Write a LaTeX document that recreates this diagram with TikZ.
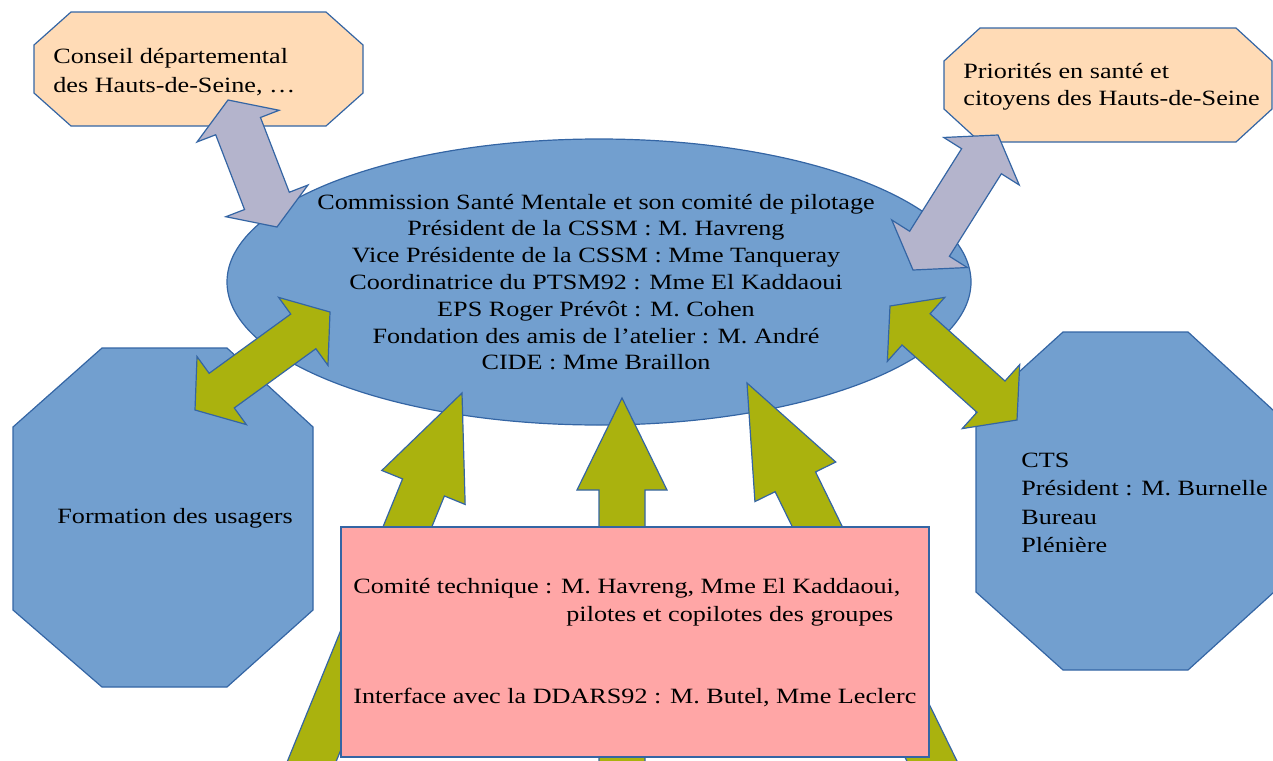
\documentclass[tikz,border=0pt]{standalone}
\usepackage{fontspec}
\setmainfont{Liberation Serif}[FakeStretch=1.2]
\usetikzlibrary{calc}
\definecolor{cblue}{HTML}{729FCF}
\definecolor{cline}{HTML}{3465A4}
\definecolor{cpeach}{HTML}{FFDBB6}
\definecolor{cpink}{HTML}{FFA6A6}
\definecolor{cpurple}{HTML}{B4B4CC}
\definecolor{colive}{HTML}{AAB20E}
% double block arrow: #1 end A, #2 end B, #3 half shaft, #4 head length, #5 half head, #6 style
\newcommand{\dblblockarrow}[6]{%
  \coordinate (da1) at ($(#1)!#4!(#2)$);
  \coordinate (db1) at ($(#2)!#4!(#1)$);
  \path[#6] (#1) -- ($(da1)!#5!90:(#2)$) -- ($(da1)!#3!90:(#2)$)
    -- ($(db1)!#3!-90:(#1)$) -- ($(db1)!#5!-90:(#1)$) -- (#2)
    -- ($(db1)!#5!90:(#1)$) -- ($(db1)!#3!90:(#1)$)
    -- ($(da1)!#3!-90:(#2)$) -- ($(da1)!#5!-90:(#2)$) -- cycle;
}
% single block arrow: #1 tip, #2 tail, #3 half shaft, #4 head length, #5 half head, #6 style
\newcommand{\oneblockarrow}[6]{%
  \coordinate (sa1) at ($(#1)!#4!(#2)$);
  \path[#6] (#1) -- ($(sa1)!#5!90:(#2)$) -- ($(sa1)!#3!90:(#2)$)
    -- ($(#2)!#3!-90:(#1)$) -- ($(#2)!#3!90:(#1)$)
    -- ($(sa1)!#3!-90:(#2)$) -- ($(sa1)!#5!-90:(#2)$) -- cycle;
}
\begin{document}
\begin{tikzpicture}[x=0.5pt,y=-0.5pt,
  shapeline/.style={draw=cline,line width=0.6pt,line join=miter},
  bluefill/.style={shapeline,fill=cblue},
  peachfill/.style={shapeline,fill=cpeach},
  purplearrow/.style={shapeline,fill=cpurple},
  olivearrow/.style={shapeline,fill=colive},
  txt/.style={inner sep=0pt,text=black,font=\fontsize{10.9}{13.4}\selectfont},
  txtl/.style={txt,align=left,anchor=west}]
\useasboundingbox (0,0) rectangle (1273,760);
\clip (0,0) rectangle (1273,760);

% central ellipse
\coordinate (cssmc) at (599,282);
\path[bluefill] (cssmc) ellipse [x radius=186pt, y radius=71.5pt];

% top octagons
\path[peachfill] (71,12) -- (326,12) -- (363,45) -- (363,93) -- (326,126) -- (71,126) -- (34,93) -- (34,45) -- cycle;
\path[peachfill] (980,28) -- (1236,28) -- (1272,61) -- (1272,109) -- (1236,142) -- (980,142) -- (944,109) -- (944,61) -- cycle;

% side octagons
\path[bluefill] (102,348) -- (227,348) -- (313,427) -- (313,610) -- (227,687) -- (102,687) -- (13,610) -- (13,427) -- cycle;
\path[bluefill] (1063,332) -- (1188,332) -- (1274,411) -- (1274,592) -- (1188,670) -- (1063,670) -- (976,592) -- (976,411) -- cycle;

% purple double arrows
\coordinate (ptlA) at (228,100);
\coordinate (ptlB) at (277,227);
\dblblockarrow{ptlA}{ptlB}{12pt}{14pt}{22pt}{purplearrow}
\coordinate (ptrA) at (998,135);
\coordinate (ptrB) at (913,270);
\dblblockarrow{ptrA}{ptrB}{11.75pt}{15.5pt}{22.3pt}{purplearrow}

% olive double arrows
\coordinate (olA) at (330,312);
\coordinate (olB) at (195,410);
\dblblockarrow{olA}{olB}{10.7pt}{16.5pt}{21pt}{olivearrow}
\coordinate (orA) at (890,306);
\coordinate (orB) at (1017,420);
\dblblockarrow{orA}{orB}{10.5pt}{17.5pt}{21.5pt}{olivearrow}

% olive arrows from below
\coordinate (b1tip) at (462,393);
\coordinate (b1tail) at (296,800);
\oneblockarrow{b1tip}{b1tail}{11.3pt}{51pt}{22.5pt}{olivearrow}
\coordinate (b2tip) at (622,398);
\coordinate (b2tail) at (622,800);
\oneblockarrow{b2tip}{b2tail}{11.5pt}{46pt}{22.5pt}{olivearrow}
\coordinate (b3tip) at (747,383);
\coordinate (b3tail) at (951,800);
\oneblockarrow{b3tip}{b3tail}{11.25pt}{55pt}{22.5pt}{olivearrow}

% pink box
\path[shapeline,fill=cpink] (341,527) rectangle (929,757);

% texts
\node[txt,align=center] (cssm) at (596,282) {Commission Santé Mentale et son comité de pilotage\\
Président de la CSSM : M. Havreng\\
Vice Présidente de la CSSM : Mme Tanqueray\\
Coordinatrice du PTSM92 : Mme El Kaddaoui\\
EPS Roger Prévôt : M. Cohen\\
Fondation des amis de l’atelier : M. André\\
CIDE : Mme Braillon};
\node[txtl,font=\fontsize{10.9}{14.5}\selectfont] (conseil) at (53,72) {Conseil départemental\\des Hauts-de-Seine, …};
\node[txtl,font=\fontsize{10.9}{13.5}\selectfont] (prio) at (963,87) {Priorités en santé et\\citoyens des Hauts-de-Seine};
\node[txtl] (formation) at (57,518) {Formation des usagers};
\node[txtl,font=\fontsize{10.9}{14.15}\selectfont] (cts) at (1021,503) {CTS\\Président : M. Burnelle\\Bureau\\Plénière};
\node[txtl] (comite1) at (353,588) {Comité technique : M. Havreng, Mme El Kaddaoui,};
\node[txtl] (comite2) at (566,616) {pilotes et copilotes des groupes};
\node[txtl] (ddars) at (353,697) {Interface avec la DDARS92 : M. Butel, Mme Leclerc};
\end{tikzpicture}
\end{document}
